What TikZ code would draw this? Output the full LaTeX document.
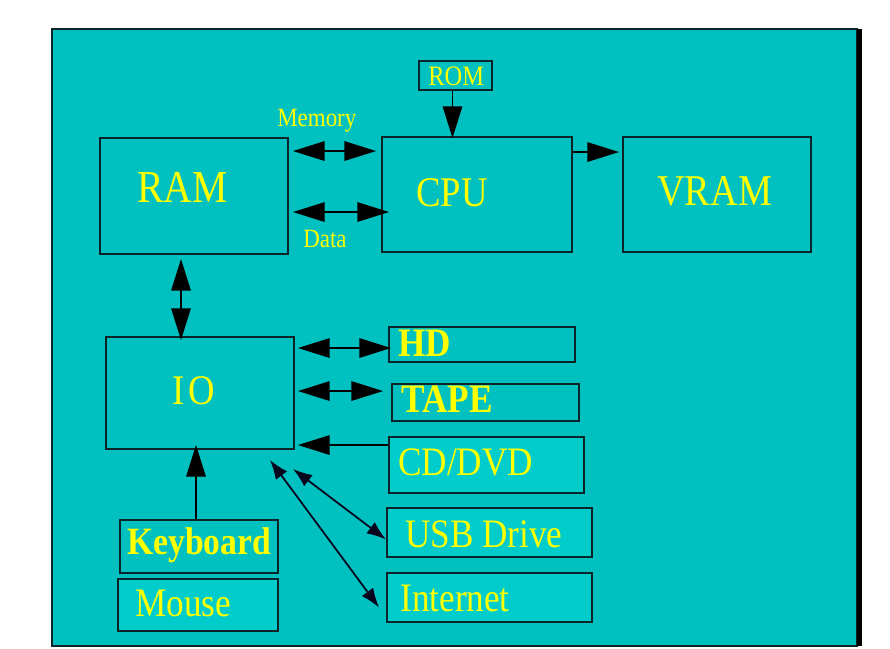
\documentclass[tikz,border=0pt]{standalone}
\usepackage{fontspec}
\setmainfont{Liberation Serif}
\newfontfamily\boxfont[FakeStretch=0.87]{Liberation Serif}
\usepackage{tikz}
\usetikzlibrary{arrows.meta}
\usetikzlibrary{calc}
\definecolor{bgteal}{RGB}{0,192,192}
\definecolor{boxteal}{RGB}{0,204,204}
\definecolor{edgedark}{RGB}{12,36,40}
\definecolor{txtyellow}{RGB}{255,255,0}
\definecolor{wirenavy}{RGB}{5,5,30}

\begin{document}
\begin{tikzpicture}[x=0.02cm, y=-0.02cm]
  \tikzset{
    unit/.style={draw=edgedark, line width=1.1pt, fill=bgteal, inner sep=0pt},
    lbl/.style={anchor=base west, inner sep=0pt, text=txtyellow, font=\boxfont\fontsize{#1}{#1}\selectfont},
    lbl/.default=23,
    bus/.style={draw=black, line width=1.1pt, {Triangle[length=18pt,width=11pt]}-{Triangle[length=18pt,width=11pt]}},
    feed/.style={draw=black, line width=1.1pt, -{Triangle[length=18pt,width=11pt]}},
    wire/.style={draw=wirenavy, line width=1pt, {Latex[length=11pt,width=8pt]}-{Latex[length=11pt,width=8pt]}}
  }

  \path[fill=white] (0,0) rectangle (890,647);
  \draw[fill=bgteal, draw=edgedark, line width=0.8pt] (52,29) rectangle (857,646);
  \draw[line width=2.8pt] (859.5,29) -- (859.5,646);

  % top row
  \node[unit, minimum width=3.76cm, minimum height=2.32cm] (ram)  at (194,196)   {};
  \node[unit, minimum width=3.8cm,  minimum height=2.3cm]  (cpu)  at (477,194.5) {};
  \node[unit, minimum width=1.46cm, minimum height=0.58cm] (rom)  at (455.5,75.5) {};
  \node[unit, minimum width=3.76cm, minimum height=2.3cm]  (vram) at (717,194.5) {};

  % io and devices
  \node[unit, minimum width=3.76cm, minimum height=2.24cm] (io)    at (200,393)   {};
  \node[unit, minimum width=3.72cm, minimum height=0.7cm]  (hd)    at (482,344.5) {};
  \node[unit, minimum width=3.74cm, minimum height=0.74cm] (tape)  at (485.5,402.5) {};
  \node[unit, fill=boxteal, minimum width=3.9cm, minimum height=1.12cm] (cddvd) at (486.5,465) {};
  \node[unit, fill=boxteal, minimum width=4.1cm, minimum height=0.98cm] (usb)   at (489.5,532.5) {};
  \node[unit, fill=boxteal, minimum width=4.1cm, minimum height=0.98cm] (inet)  at (489.5,597.5) {};
  \node[unit, minimum width=3.16cm, minimum height=1.06cm] (keyb)  at (199,546.5) {};
  \node[unit, fill=boxteal, minimum width=3.2cm,  minimum height=1.04cm] (mouse) at (198,605) {};

  % texts
  \node[lbl=26] (ramtxt)  at (137,203) {RAM};
  \node[lbl=24] (cputxt)  at (416,207) {CPU};
  \node[lbl=16] (romtxt)  at (428,86)  {ROM};
  \node[lbl=25] (vramtxt) at (657,206) {VRAM};
  \node[lbl=15] (memtxt)  at (277,127) {Memory};
  \node[lbl=15] (datatxt) at (303,248) {Data};
  \node[lbl=24] (iotxt)   at (172,405) {I\kern2pt O};
  \node[lbl, font=\boxfont\fontsize{23}{23}\selectfont\bfseries] (hdtxt)   at (398,357) {HD};
  \node[lbl, font=\boxfont\fontsize{23}{23}\selectfont\bfseries] (tapetxt) at (401,413) {TAPE};
  \node[lbl] (cdtxt)    at (398,476) {CD/DVD};
  \node[lbl] (usbtxt)   at (405,548) {USB Drive};
  \node[lbl] (inettxt)  at (400,612) {Internet};
  \node[lbl, font=\boxfont\fontsize{22}{22}\selectfont\bfseries] (keybtxt) at (127,555) {Keyboard};
  \node[lbl] (mousetxt) at (135,617) {Mouse};

  % buses
  \draw[bus] ($(ram.north east)+(4,14)$) -- ($(cpu.west |- ram.north east)+(-5,14)$);
  \draw[bus] ($(ram.north east)+(4,75)$) -- ($(cpu.west |- ram.north east)+(8,75)$);
  \draw[feed] ($(rom.south)+(-3,0)$) -- ($(rom.south |- cpu.north)+(-3,2)$);
  \draw[feed] ($(cpu.north east)+(0,16)$) -- ($(vram.west |- cpu.north east)+(-3,16)$);
  \draw[bus] ($(ram.south)+(-13,4)$) -- ($(ram.south |- io.north)+(-13,4)$);
  \draw[bus] ($(io.north east)+(3,12)$) -- ($(hd.north west |- io.north east)+(3,12)$);
  \draw[bus] ($(io.north east)+(3,55)$) -- ($(tape.north west |- io.north east)+(-8,55)$);
  \draw[feed] ($(cddvd.north west)+(0,9)$) -- ($(io.east |- cddvd.north west)+(3,9)$);
  \draw[feed] ($(keyb.north)+(-3,0)$) -- ($(keyb.north |- io.south)+(-3,-5)$);
  \draw[wire] ($(io.south east)+(-2,19)$) -- ($(usb.west)+(0,7)$);
  \draw[wire] ($(io.south east)+(-25,10)$) -- ($(inet.west)+(-7,10)$);
\end{tikzpicture}
\end{document}
